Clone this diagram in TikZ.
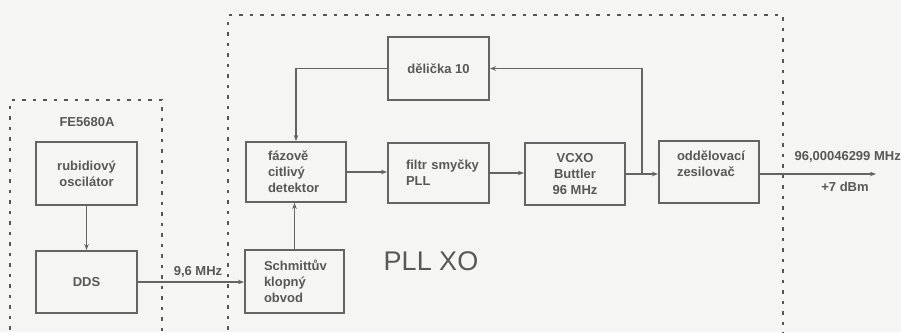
\documentclass[tikz,border=0pt]{standalone}
\usepackage{fontspec}
\setmainfont{Liberation Sans}
\usetikzlibrary{arrows.meta}
\definecolor{bg}{RGB}{245,245,243}
\definecolor{ln}{RGB}{100,100,100}
\definecolor{tx}{RGB}{88,88,88}
\begin{document}
\begin{tikzpicture}[x=1pt,y=-1pt,
  txt/.style={text=tx,font=\fontsize{13}{16}\selectfont\bfseries},
  blk/.style={draw=ln,line width=1.9pt,txt,inner sep=0pt,align=center},
  lblk/.style={draw=ln,line width=1.9pt,txt,inner ysep=0pt,align=left},
  arr/.style={draw=ln,line width=1.4pt,-{Stealth[length=6pt,width=4.5pt]}},
  con/.style={draw=ln,line width=1.4pt},
  grp/.style={draw=ln!85!black,line width=2.5pt,dash pattern=on 3.5pt off 7pt}]
\fill[bg] (0,0) rectangle (901,332);
\useasboundingbox (0,0) rectangle (901,332);
% group frames
\draw[grp] (10,340) -- (10,100) -- (162,100) -- (162,340);
\draw[grp] (228,340) -- (228,15) -- (783,15) -- (783,340);
\node[txt] (fe) at (87,122) {FE5680A};
\node[text=tx,font=\fontsize{27}{30}\selectfont] (pll) at (431,261) {PLL XO};
% blocks
\node[blk,minimum width=101pt,minimum height=63pt] (rb) at (86.5,173.5) {rubidiový\\oscilátor};
\node[blk,minimum width=101pt,minimum height=62pt] (dds) at (86.5,282) {DDS};
\node[lblk,text width=56pt,inner xsep=22pt,minimum height=60pt] (det) at (296,172) {\mbox{fázově}\\\mbox{citlivý}\\\mbox{detektor}};
\node[lblk,text width=61pt,inner xsep=19pt,minimum height=63pt] (sch) at (294.5,281.5) {\mbox{Schmittův}\\\mbox{klopný}\\\mbox{obvod}};
\node[blk,minimum width=101pt,minimum height=63pt] (div) at (438.5,68.5) {dělička 10};
\node[lblk,text width=65pt,inner xsep=18pt,minimum height=60pt] (fil) at (438.5,173) {\mbox{filtr smyčky}\\\mbox{PLL}};
\node[blk,minimum width=100pt,minimum height=62pt] (vco) at (575,174) {VCXO\\Buttler\\96 MHz};
\node[lblk,text width=64pt,inner xsep=18pt,minimum height=62pt] (amp) at (709,172) {\mbox{oddělovací}\\\mbox{zesilovač}\\\mbox{}};
% connectors
\coordinate (tap) at (642,174);
\coordinate (out) at (876,174);
\draw[arr] (rb) -- (dds);
\draw[arr] (dds.east) -- (dds.east -| sch.west);
\draw[arr] (sch.north) -- (sch.north |- det.south);
\draw[arr] (det.east) -- (det.east -| fil.west);
\draw[arr] (fil.east) -- (fil.east -| vco.west);
\draw[arr] (vco.east) -- (vco.east -| amp.west);
\draw[arr] (tap) |- (div.east);
\draw[arr] (div.west) -| (det.north);
\draw[arr] (amp.east |- out) -- (out);
% labels
\node[txt] (f96) at (198,272) {9,6 MHz};
\node[txt,anchor=west] (fout) at (791,157) {96,00046299 MHz};
\node[txt] (pwr) at (845,187) {+7 dBm};
\end{tikzpicture}
\end{document}
